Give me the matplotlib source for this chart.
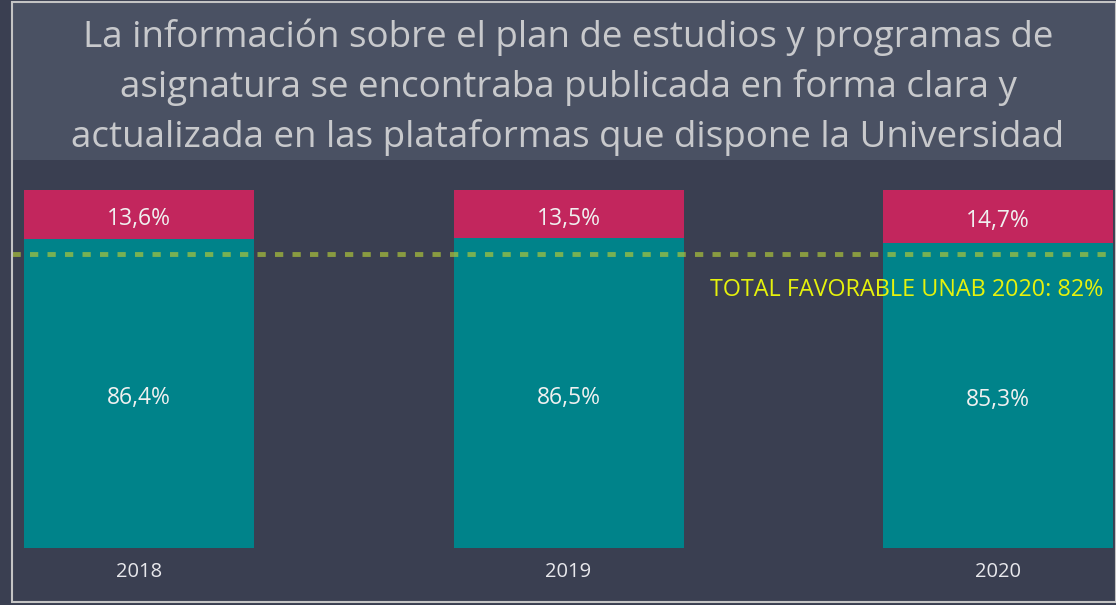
import matplotlib.pyplot as plt
from matplotlib.patches import Rectangle

plt.rcParams['font.family'] = ['Open Sans', 'DejaVu Sans']

# Data
years = ["2018", "2019", "2020"]
favorable = [86.4, 86.5, 85.3]
desfavorable = [13.6, 13.5, 14.7]
total_favorable = 82

title = ("La información sobre el plan de estudios y programas de\n"
         "asignatura se encontraba publicada en forma clara y\n"
         "actualizada en las plataformas que dispone la Universidad")

bg = "#3a3f51"
band = "#4a5163"
teal = "#00838a"
pink = "#c2265d"

W, H = 1116, 605
fig = plt.figure(figsize=(W / 100, H / 100), dpi=100, facecolor=bg)

# Title band and frame
fig.patches.append(Rectangle((12 / W, (H - 160) / H), 1 - 12 / W, 158 / H,
                             transform=fig.transFigure, facecolor=band,
                             edgecolor="none", zorder=0))
fig.patches.append(Rectangle((12 / W, 3 / H), 1 - 12 / W, (H - 5) / H,
                             transform=fig.transFigure, facecolor="none",
                             edgecolor="#c4c4c4", linewidth=1.5, zorder=5))

fig.text(568 / W, 1 - 87 / H, title, ha="center", va="center",
         color="#c8c9cc", fontsize=26.5, linespacing=1.47)

# Plot area
ax = fig.add_axes([12 / W, (H - 548) / H, (W - 12) / W, 358 / H])
ax.set_facecolor("none")
x = list(range(len(years)))
width = 0.5355
ax.bar(x, favorable, width, color=teal)
ax.bar(x, desfavorable, width, bottom=favorable, color=pink)

for i in x:
    ax.text(i, favorable[i] / 2 - 1.3, f"{favorable[i]:.1f}%".replace(".", ","),
            ha="center", va="center", color="#f0f0f0", fontsize=16.5)
    ax.text(i, favorable[i] + desfavorable[i] / 2 - 1.3,
            f"{desfavorable[i]:.1f}%".replace(".", ","),
            ha="center", va="center", color="#f0f0f0", fontsize=16.5)

ax.axhline(total_favorable, color="#b0c83a", alpha=0.68, linewidth=3.5,
           linestyle=(0, (1.7, 1.9)))
ax.text(2.245, total_favorable - 10, f"TOTAL FAVORABLE UNAB 2020: {total_favorable}%",
        ha="right", va="center", color="#e6f20c", fontsize=16.8)

ax.set_xlim(-0.2957, 2.2747)
ax.set_ylim(0, 100)
ax.set_xticks(x)
ax.set_xticklabels(years, color="#e8e8ec", fontsize=14.5)
ax.tick_params(axis="x", length=0, pad=10)
ax.set_yticks([])
for s in ax.spines.values():
    s.set_visible(False)

fig.savefig("out.png", dpi=100, facecolor=bg)
